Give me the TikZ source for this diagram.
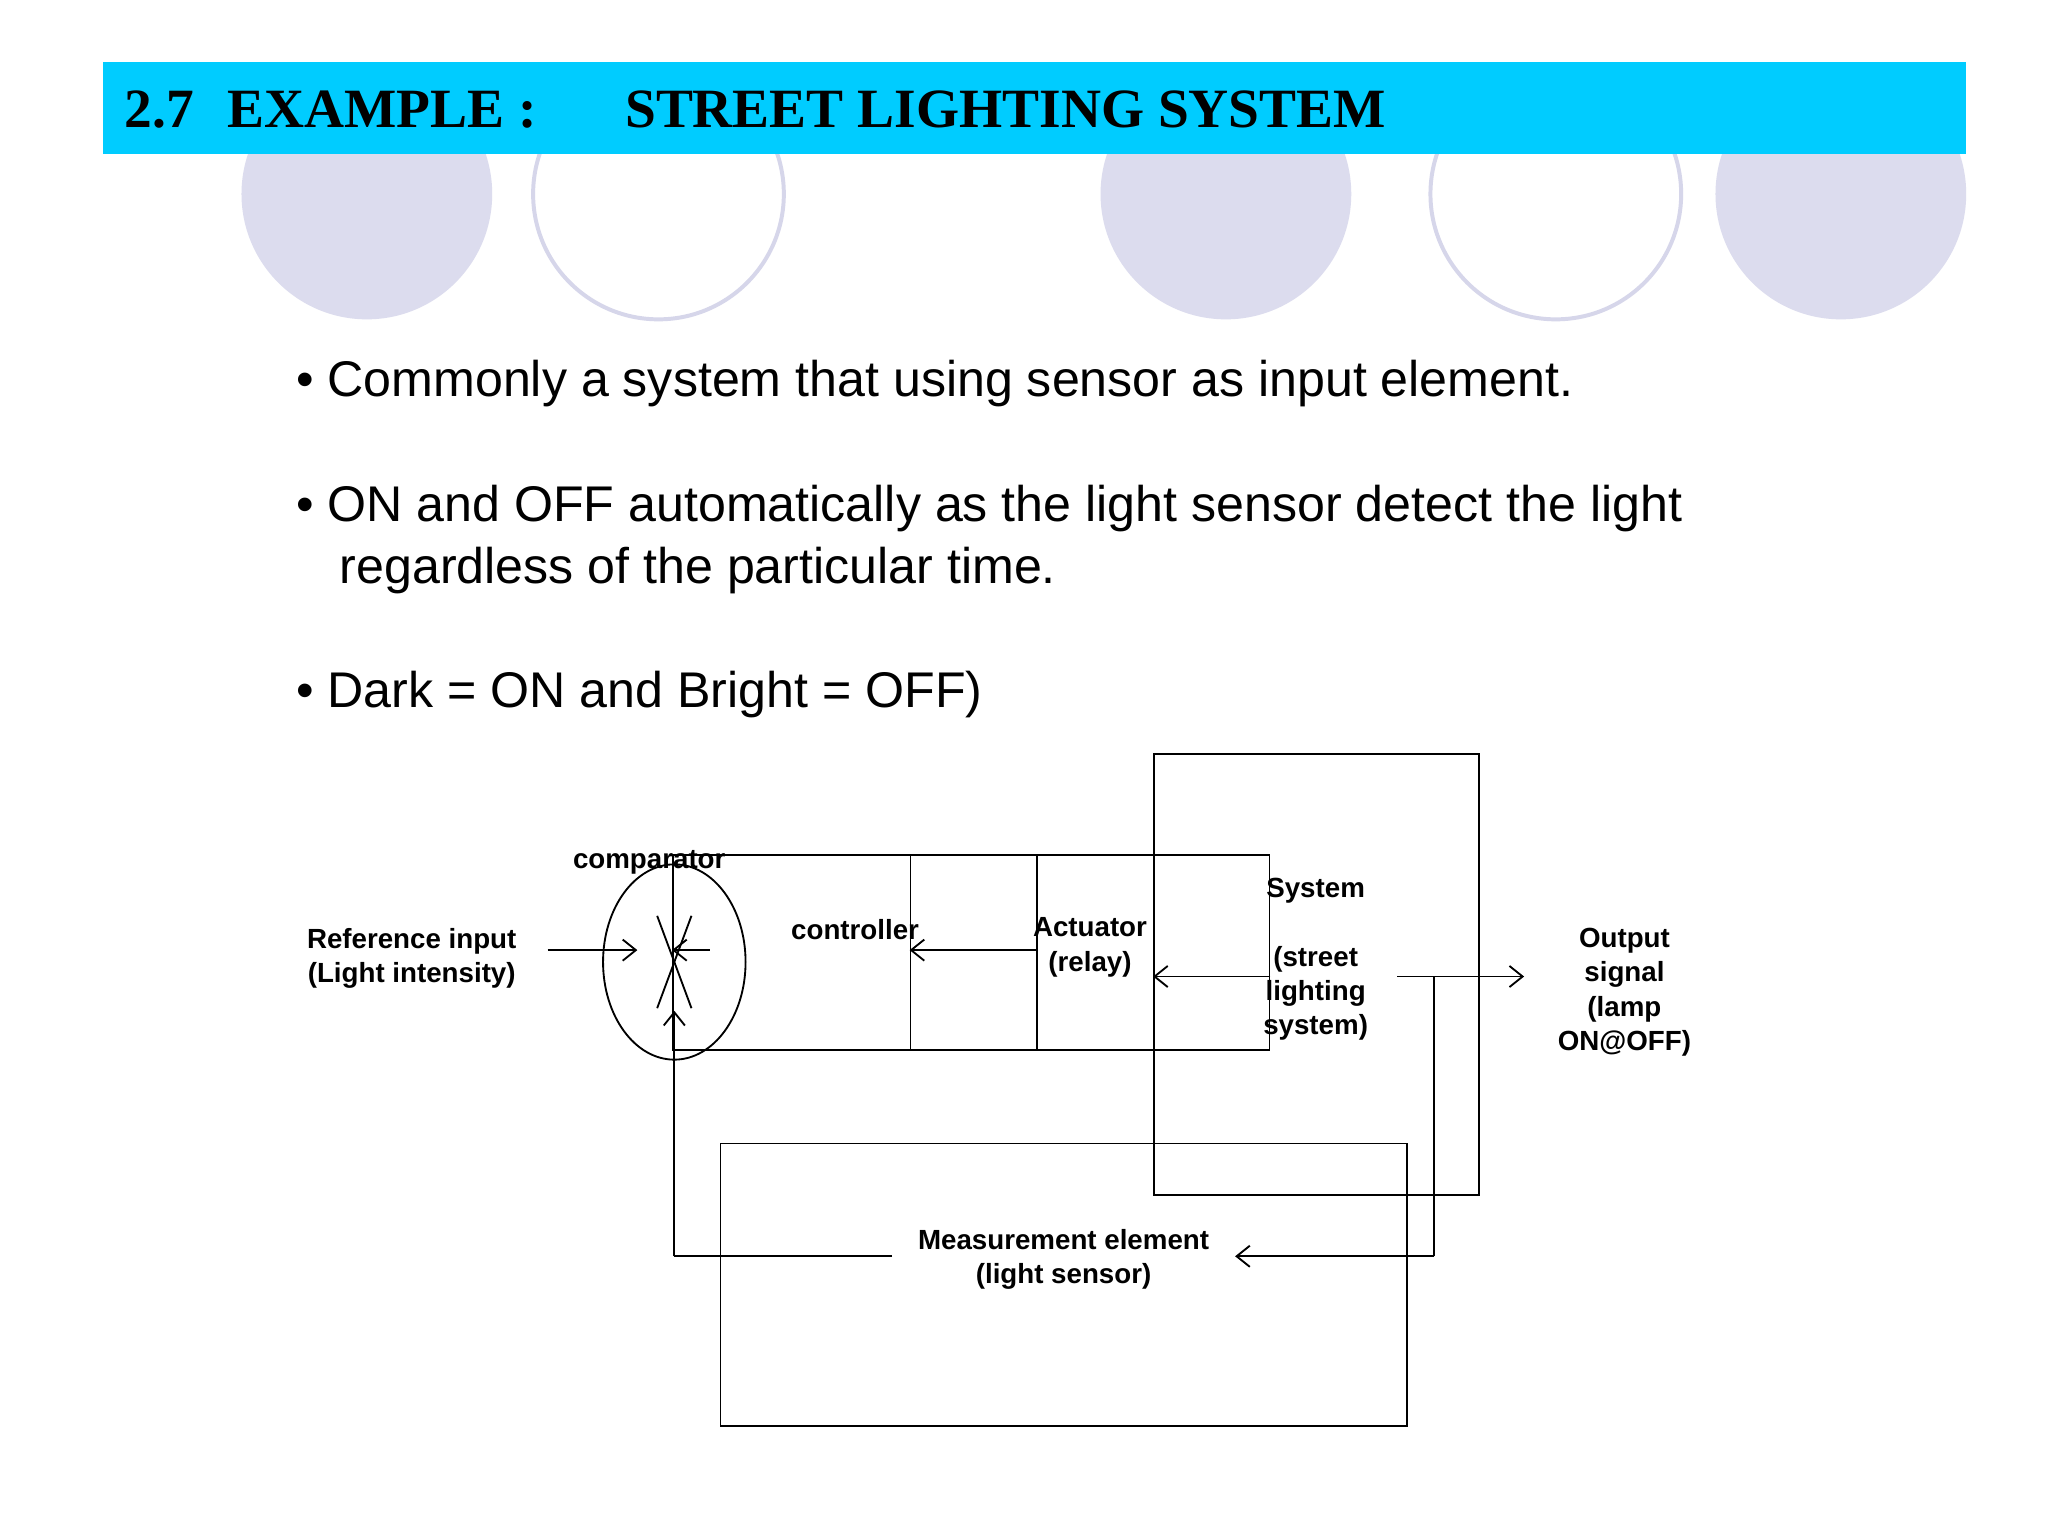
\documentclass[tikz,border=0pt]{standalone}
\usepackage{fontspec}
\setmainfont{Liberation Sans}
\newfontfamily\titlefont{Liberation Serif}
\usetikzlibrary{arrows.meta,shapes.geometric}
\definecolor{bar}{HTML}{00CCFF}
\definecolor{dot}{HTML}{DCDCEE}
\definecolor{ring}{HTML}{D6D6EA}
\begin{document}
\begin{tikzpicture}[x=0.5pt,y=-0.5pt,
  blk/.style={draw,line width=0.7pt,inner sep=0pt},
  lbl/.style={font=\fontsize{10.5}{13}\selectfont\bfseries,align=center,inner sep=0pt,anchor=north},
  arr/.style={line width=0.7pt,-{Straight Barb[length=5pt,width=8pt]}},
  ln/.style={line width=0.7pt},
  bul/.style={font=\fontsize{19}{24}\selectfont,anchor=west,inner sep=0pt,align=left}]
\useasboundingbox (0,0) rectangle (1552,1164);
\fill[white] (0,0) rectangle (1552,1164);
\foreach \x in {278,929,1395}{\fill[dot] (\x,147) circle (95);}
\foreach \x in {499,1179}{\draw[ring,line width=1.5pt] (\x,147) circle (95);}
\fill[bar] (78,47) rectangle (1490,117);
\node[anchor=west,inner sep=0pt,font=\titlefont\fontsize{21}{24}\selectfont\bfseries] (title) at (94,83) {2.7\hspace{0.6em}EXAMPLE :\hspace{1.6em}STREET LIGHTING SYSTEM};
\node[bul] (b1) at (224,291) {• Commonly a system that using sensor as input element.};
\node[bul] (b2) at (224,385) {• ON and OFF automatically as the light sensor detect the light};
\node[bul] (b2b) at (257,432) {regardless of the particular time.};
\node[bul] (b3) at (224,526) {• Dark = ON and Bright = OFF)};
% diagram
\node[draw,ellipse,line width=0.7pt,minimum width=54,minimum height=74,inner sep=0pt] (cmp) at (511,729) {};
\draw[ln] (498,694) -- (524,764);
\draw[ln] (524,694) -- (498,764);
\node[lbl] (cmpl) at (492,644) {comparator};
\node[blk,minimum width=138,minimum height=74] (ctl) at (648,722) {};
\node[lbl] at (648,696) {controller};
\node[blk,minimum width=136,minimum height=74] (act) at (826,722) {};
\node[lbl] at (826,695) {Actuator\\(relay)};
\node[blk,minimum width=123,minimum height=167] (sys) at (997.5,738.5) {};
\node[lbl] at (997,665) {System\\[13pt](street\\lighting\\system)};
\node[blk,minimum width=260,minimum height=107] (mea) at (806,973.5) {};
\node[lbl] at (806,931) {Measurement element\\(light sensor)};
\node[lbl] (ref) at (312,703) {Reference input\\(Light intensity)};
\node[lbl] (out) at (1231,703) {Output\\signal\\(lamp\\ON@OFF)};
\coordinate (r0) at (415,720);
\coordinate (c0) at (483,720);
\coordinate (o1) at (1155,740);
\coordinate (s1) at (1059,740);
\coordinate (j) at (1087,740);
\coordinate (j2) at (1087,952);
\coordinate (m1) at (936,952);
\coordinate (m2) at (676,952);
\coordinate (f1) at (511,952);
\coordinate (f2) at (511,766);
\draw[arr] (r0) -- (c0);
\draw[arr] (538,720) -- (ctl.west|-0,720);
\draw[arr] (ctl.east|-0,720) -- (act.west|-0,720);
\draw[arr] (act.east|-0,740) -- (sys.west|-0,740);
\draw[arr] (s1) -- (o1);
\draw[ln] (j) -- (j2);
\draw[arr] (j2) -- (m1);
\draw[ln] (m2) -- (f1);
\draw[arr] (f1) -- (f2);
\end{tikzpicture}
\end{document}
